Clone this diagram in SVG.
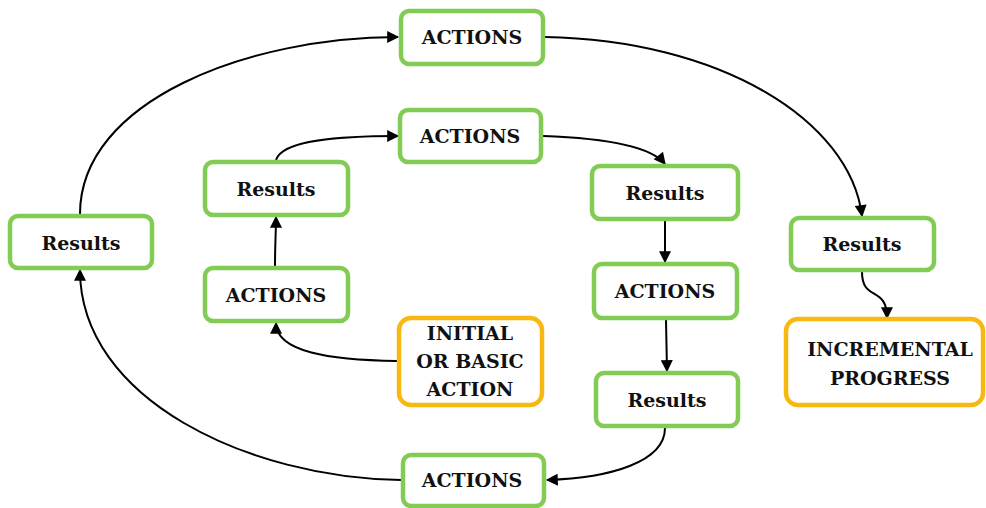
<svg xmlns="http://www.w3.org/2000/svg" width="986" height="508" viewBox="0 0 986 508">
<style>
.g{fill:#fff;stroke:#82cc55;stroke-width:4.5}
.o{fill:#fff;stroke:#f7b911;stroke-width:4.5}
.t{font-family:"DejaVu Serif","Liberation Serif",serif;font-weight:bold;font-size:19px;fill:#111;text-anchor:middle;dominant-baseline:central}
.c{fill:none;stroke:#000;stroke-width:2}
</style>
<defs>
<marker id="a" viewBox="0 0 10 10" refX="9" refY="5" markerWidth="13" markerHeight="12" orient="auto" markerUnits="userSpaceOnUse">
<path d="M0,0 L10,5 L0,10 z" fill="#000"/>
</marker>
</defs>
<g id="connectors">
<path class="c" marker-end="url(#a)" d="M80,214 C80,100 250,37 398,37"/>
<path class="c" marker-end="url(#a)" d="M545,37 C720,40 850,120 862,216"/>
<path class="c" marker-end="url(#a)" d="M862,272 C862,302 887,285 887,318"/>
<path class="c" marker-end="url(#a)" d="M665,428 C665,462 610,478 547,480"/>
<path class="c" marker-end="url(#a)" d="M401,480 C250,478 80,400 80,270"/>
<path class="c" marker-end="url(#a)" d="M397,361 C330,360 276,352 276,323"/>
<path class="c" marker-end="url(#a)" d="M275,266 C275,245 276,230 276,217"/>
<path class="c" marker-end="url(#a)" d="M276,160 C282,140 340,136 398,136"/>
<path class="c" marker-end="url(#a)" d="M543,136 C600,138 650,145 665,164"/>
<path class="c" marker-end="url(#a)" d="M665,221 L665,262"/>
<path class="c" marker-end="url(#a)" d="M666,320 L667,371"/>
</g>
<g id="n1"><rect class="g" x="401" y="11" width="142" height="53" rx="8"/><text class="t" x="472" y="37">ACTIONS</text></g>
<g id="n2"><rect class="g" x="400" y="110" width="141" height="52" rx="8"/><text class="t" x="470" y="136">ACTIONS</text></g>
<g id="n3"><rect class="g" x="205" y="162" width="143" height="53" rx="8"/><text class="t" x="276" y="189">Results</text></g>
<g id="n4"><rect class="g" x="592" y="166" width="146" height="53" rx="8"/><text class="t" x="665" y="193">Results</text></g>
<g id="n5"><rect class="g" x="10" y="216" width="142" height="52" rx="8"/><text class="t" x="81" y="243">Results</text></g>
<g id="n6"><rect class="g" x="205" y="268" width="143" height="53" rx="8"/><text class="t" x="276" y="295">ACTIONS</text></g>
<g id="n7"><rect class="g" x="791" y="218" width="143" height="52" rx="8"/><text class="t" x="862" y="244">Results</text></g>
<g id="n8"><rect class="g" x="594" y="264" width="143" height="54" rx="8"/><text class="t" x="665" y="291">ACTIONS</text></g>
<g id="n9"><rect class="o" x="399" y="318" width="143" height="87" rx="12"/><text class="t" x="470" y="333">INITIAL</text><text class="t" x="470" y="361">OR BASIC</text><text class="t" x="470" y="389">ACTION</text></g>
<g id="n10"><rect class="o" x="786" y="319" width="197" height="86" rx="12"/><text class="t" x="890" y="349">INCREMENTAL</text><text class="t" x="890" y="378">PROGRESS</text></g>
<g id="n11"><rect class="g" x="596" y="373" width="142" height="53" rx="8"/><text class="t" x="667" y="400">Results</text></g>
<g id="n12"><rect class="g" x="403" y="455" width="141" height="51" rx="8"/><text class="t" x="472" y="480">ACTIONS</text></g>
</svg>
